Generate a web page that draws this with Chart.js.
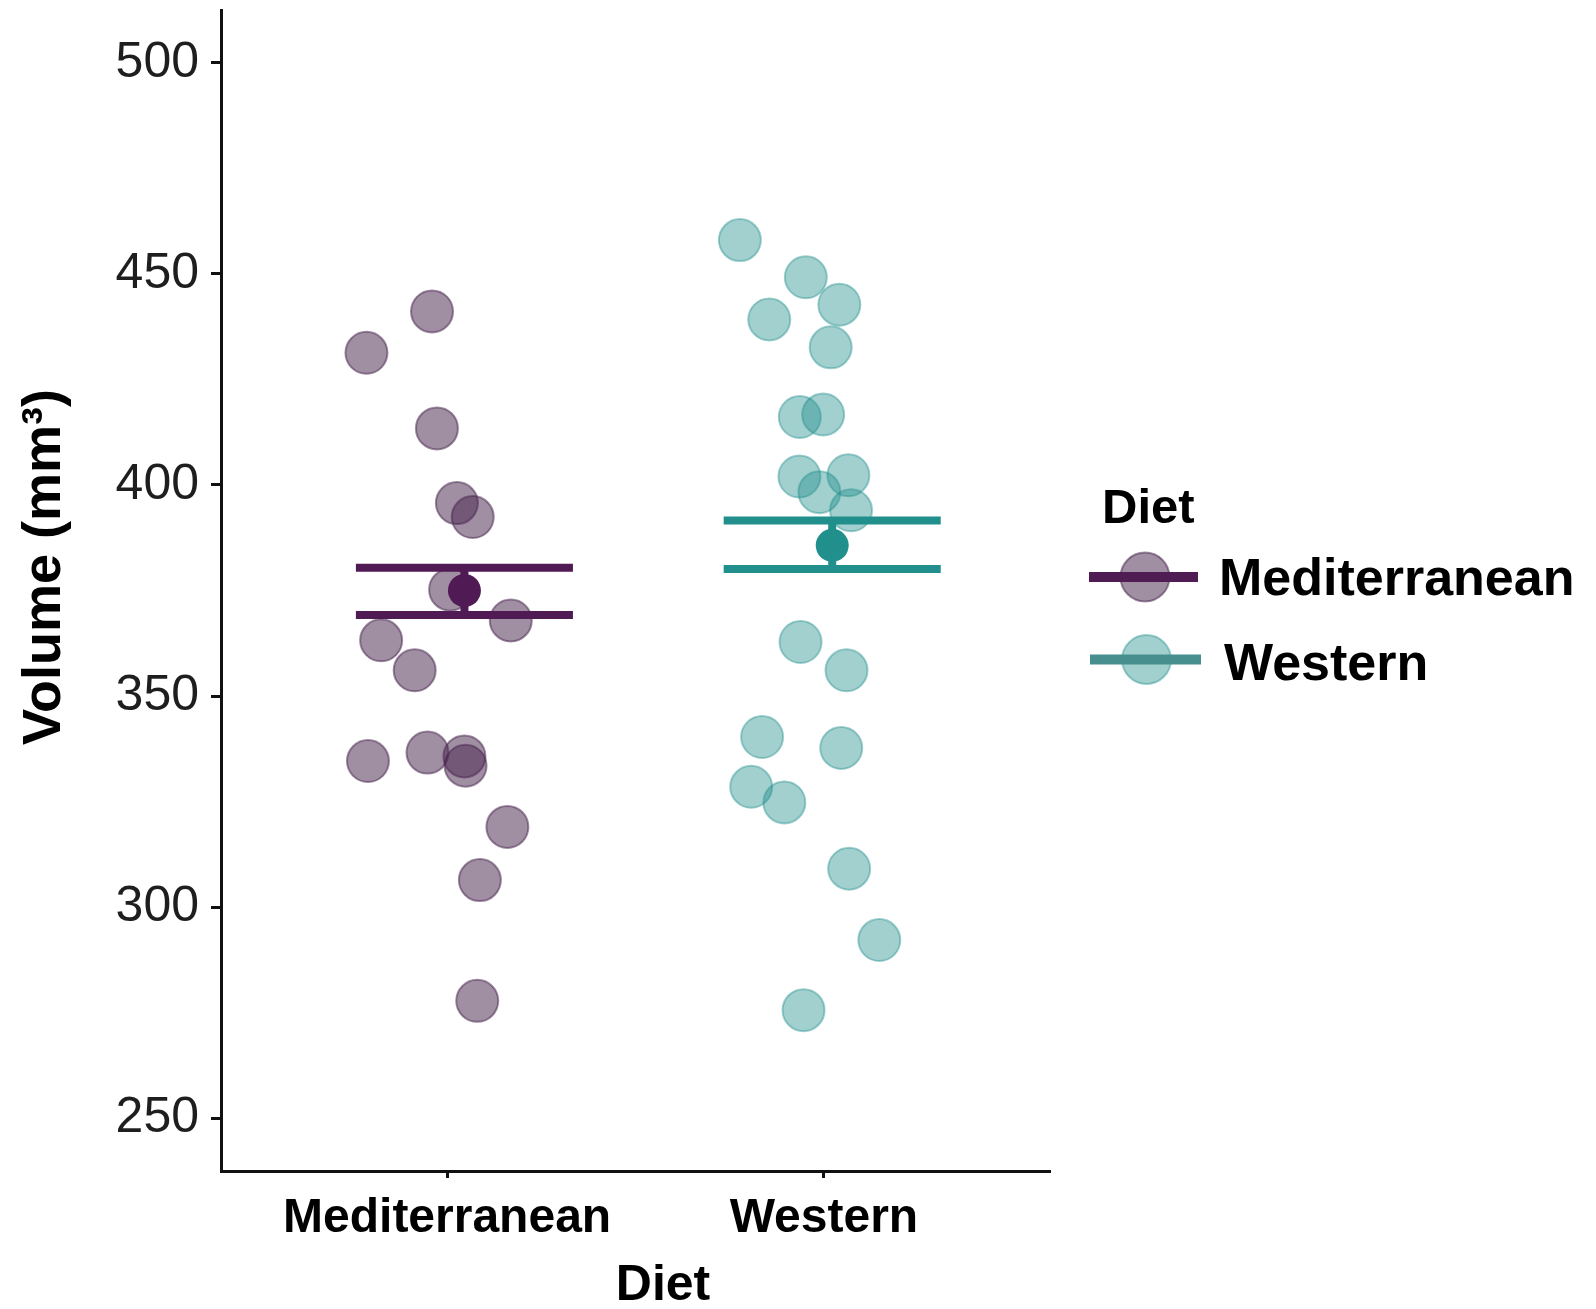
<!DOCTYPE html>
<html>
<head>
<meta charset="utf-8">
<script src="https://cdn.jsdelivr.net/npm/chart.js@4.4.0/dist/chart.umd.min.js"></script>
<style>
  html, body { margin: 0; padding: 0; background: #fff; }
  #wrap { width: 1596px; height: 1309px; }
</style>
</head>
<body>
<div id="wrap"><canvas id="chart" width="1596" height="1309"></canvas></div>
<script>
const diets = ['Mediterranean', 'Western'];
const yTicks = [250, 300, 350, 400, 450, 500];

// jittered observations (x = group position 1 or 2 plus jitter)
const medX = [0.960, 0.786, 0.973, 1.026, 1.068, 1.008, 1.169, 0.825, 0.914, 0.790, 0.948, 1.046, 1.049, 1.160, 1.087, 1.080];
const medY = [441.1, 431.3, 413.4, 395.7, 392.4, 375.2, 367.9, 363.2, 356.1, 334.6, 336.6, 335.7, 333.5, 319.0, 306.4, 277.8];

const westX = [1.777, 1.952, 2.041, 1.855, 2.018, 1.936, 1.998, 1.935, 2.065, 1.988, 2.072, 1.938, 2.060, 1.836, 2.046, 1.807, 1.895, 2.067, 2.147, 1.946];
const westY = [458.0, 449.2, 442.7, 439.2, 432.6, 416.1, 416.7, 402.0, 402.3, 398.3, 394.0, 362.8, 356.1, 340.3, 337.7, 328.5, 324.8, 309.1, 292.2, 275.6];

// group mean and error bar (dodged x position)
const meanX = [1.046, 2.022];
const means = [375.0, 385.7];
const lower = [369.2, 380.1];
const upper = [380.4, 391.6];

const FONT = '"Liberation Sans", Arial, Helvetica, sans-serif';
const solid = ['#501a54', '#21908c'];
const fills = ['rgba(72,38,78,0.52)', 'rgba(33,144,140,0.42)'];
const legendLine = ['#4f1c53', '#468f8e'];
const halfWidth = 0.288;

function seg(x1, y1, x2, y2, color, order) {
  return {
    type: 'scatter',
    data: [{x: x1, y: y1}, {x: x2, y: y2}],
    showLine: true,
    borderColor: color,
    borderWidth: 8,
    borderCapStyle: 'butt',
    pointRadius: 0,
    order: order
  };
}

const datasets = [
  {
    label: diets[0],
    data: medX.map((x, i) => ({x: x, y: medY[i]})),
    backgroundColor: fills[0],
    borderColor: fills[0],
    borderWidth: 2,
    pointRadius: 21,
    order: 5
  },
  {
    label: diets[1],
    data: westX.map((x, i) => ({x: x, y: westY[i]})),
    backgroundColor: fills[1],
    borderColor: fills[1],
    borderWidth: 2,
    pointRadius: 21,
    order: 5
  }
];

meanX.forEach((mx, i) => {
  datasets.push(seg(mx - halfWidth, upper[i], mx + halfWidth, upper[i], solid[i], 3));
  datasets.push(seg(mx - halfWidth, lower[i], mx + halfWidth, lower[i], solid[i], 3));
  datasets.push(seg(mx, lower[i], mx, upper[i], solid[i], 3));
  datasets.push({
    type: 'scatter',
    data: [{x: mx, y: means[i]}],
    backgroundColor: solid[i],
    borderColor: solid[i],
    borderWidth: 0,
    pointRadius: 16.5,
    order: 1
  });
});

// axis titles and the legend are drawn by hand
const extras = {
  id: 'extras',
  afterDraw(chart) {
    const ctx = chart.ctx;
    ctx.save();
    ctx.fillStyle = '#000';
    ctx.font = 'bold 54px ' + FONT;
    ctx.textAlign = 'center';
    ctx.textBaseline = 'alphabetic';
    ctx.translate(60, 567);
    ctx.rotate(-Math.PI / 2);
    ctx.fillText('Volume (mm³)', 0, 0);
    ctx.restore();

    ctx.save();
    ctx.fillStyle = '#000';
    ctx.font = 'bold 50px ' + FONT;
    ctx.textAlign = 'center';
    ctx.fillText('Diet', 663, 1300);

    // legend
    ctx.textAlign = 'left';
    ctx.font = 'bold 49px ' + FONT;
    ctx.fillText('Diet', 1102, 523);
    diets.forEach((d, i) => {
      const cy = 577 + i * 82.5;
      ctx.beginPath();
      ctx.arc(1145 + i * 1.5, cy, 24.5, 0, Math.PI * 2);
      ctx.fillStyle = fills[i];
      ctx.fill();
      ctx.lineWidth = 2;
      ctx.strokeStyle = fills[i];
      ctx.stroke();
      ctx.beginPath();
      ctx.moveTo(1089 + i, cy);
      ctx.lineTo(1198 + i * 3, cy);
      ctx.lineWidth = 10;
      ctx.strokeStyle = legendLine[i];
      ctx.stroke();
      ctx.fillStyle = '#000';
      ctx.font = 'bold 52px ' + FONT;
      ctx.fillText(d, 1219 + i * 5, 595 + i * 85);
    });
    ctx.restore();
  }
};

new Chart(document.getElementById('chart'), {
  type: 'scatter',
  data: { datasets: datasets },
  options: {
    responsive: false,
    animation: false,
    layout: { autoPadding: false, padding: { left: 0, top: 10, right: 546, bottom: 0 } },
    plugins: { legend: { display: false }, tooltip: { enabled: false } },
    scales: {
      x: {
        type: 'linear',
        min: 0.4,
        max: 2.6,
        afterBuildTicks: (scale) => { scale.ticks = [1, 2].map(v => ({value: v})); },
        afterFit: (scale) => {
          scale.height = 138;
          scale.paddingLeft = 0;
          scale.paddingRight = 0;
        },
        ticks: {
          callback: (v) => diets[v - 1],
          color: '#000',
          padding: 12,
          font: { family: FONT, size: 48, weight: 'bold' }
        },
        grid: { drawOnChartArea: false, drawTicks: true, tickLength: 7, tickWidth: 3, tickColor: '#111' },
        border: { display: true, color: '#111', width: 3 }
      },
      y: {
        min: 237.5,
        max: 512.5,
        afterBuildTicks: (scale) => { scale.ticks = yTicks.map(v => ({value: v})); },
        afterFit: (scale) => {
          scale.width = 221;
          scale.paddingTop = 0;
          scale.paddingBottom = 0;
        },
        ticks: {
          color: '#1e1e1e',
          padding: 12,
          font: { family: FONT, size: 50 }
        },
        grid: { drawOnChartArea: false, drawTicks: true, tickLength: 10, tickWidth: 3, tickColor: '#111' },
        border: { display: true, color: '#111', width: 3 }
      }
    }
  },
  plugins: [extras]
});
</script>
</body>
</html>
